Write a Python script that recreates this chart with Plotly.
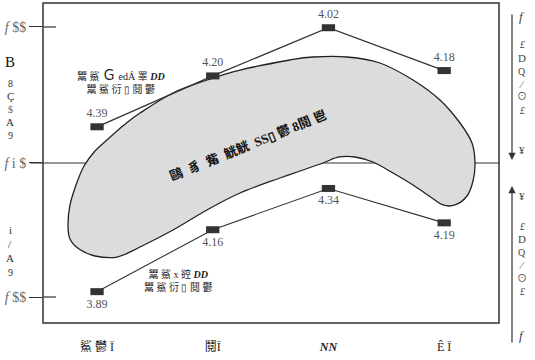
import plotly.graph_objects as go

# ---------------- data ----------------
categories = ["鯊 鬱 Ï", "鬩Ï", "<b><i>NN</i></b>", "Ê Ï"]
upper_values = [4.39, 4.20, 4.02, 4.18]
lower_values = [3.89, 4.16, 4.34, 4.19]
upper_tick_vals = [4.017, 4.5249]
upper_tick_text = ["<i>f</i> $$", "<i>f</i> i $"]
lower_tick_vals = [3.865]
lower_tick_text = ["<i>f</i> $$"]

x_idx = list(range(len(categories)))

W, H = 535, 360
L, R, T, B = 43, 36, 3, 37
PW, PH = W - L - R, H - T - B

def px(xp):
    return (xp - L) / PW

def py(yp):
    return (H - B - yp) / PH

SERIF = "Liberation Serif, Noto Sans CJK SC, serif"
DARK = "#333333"

fig = go.Figure()
fig.add_trace(go.Scatter(
    x=x_idx, y=upper_values, yaxis="y2", mode="lines+markers+text",
    text=[f"{v:.2f}" for v in upper_values], textposition="top center",
    textfont=dict(family=SERIF, size=12, color="#555555"),
    line=dict(color=DARK, width=1.3),
    marker=dict(symbol="line-ew", size=9.5, line=dict(width=7, color=DARK)),
    cliponaxis=False, showlegend=False))
fig.add_trace(go.Scatter(
    x=x_idx, y=lower_values, yaxis="y", mode="lines+markers+text",
    text=[f"{v:.2f}" for v in lower_values], textposition="bottom center",
    textfont=dict(family=SERIF, size=12, color="#555555"),
    line=dict(color=DARK, width=1.1),
    marker=dict(symbol="line-ew", size=9.5, line=dict(width=7, color=DARK)),
    cliponaxis=False, showlegend=False))

# ---------------- blob outline (pixel guide points) ----------------
blob_px = [(68, 225), (70, 205), (76, 185), (84, 166), (95, 151), (108, 139), (124, 125),
           (140, 113), (173, 93), (207, 80), (240, 70), (290, 60), (313, 57), (347, 57),
           (380, 63), (413, 80), (440, 100), (460, 123), (472, 143), (475, 163), (473, 181),
           (467, 196), (455, 205), (443, 205), (432, 198), (413, 185), (393, 173), (373, 162),
           (355, 157), (339, 157), (323, 163), (300, 171), (280, 178), (240, 193), (207, 210),
           (173, 230), (140, 247), (117, 257), (95, 256), (79, 249), (70, 239)]
pts = [(px(a), py(b)) for a, b in blob_px]
n = len(pts)
path = f"M {pts[0][0]:.4f},{pts[0][1]:.4f}"
for i in range(n):
    p0, p1, p2, p3 = pts[i - 1], pts[i], pts[(i + 1) % n], pts[(i + 2) % n]
    c1 = (p1[0] + (p2[0] - p0[0]) / 6, p1[1] + (p2[1] - p0[1]) / 6)
    c2 = (p2[0] - (p3[0] - p1[0]) / 6, p2[1] - (p3[1] - p1[1]) / 6)
    path += f" C {c1[0]:.4f},{c1[1]:.4f} {c2[0]:.4f},{c2[1]:.4f} {p2[0]:.4f},{p2[1]:.4f}"
path += " Z"

shapes = [
    dict(type="line", xref="paper", yref="paper", x0=px(30), x1=1, y0=0.5, y1=0.5,
         line=dict(color=DARK, width=1.2), layer="below"),
    dict(type="path", xref="paper", yref="paper", path=path, fillcolor="#dcdcdc",
         line=dict(color="#222222", width=1.3), layer="below"),
    dict(type="rect", xref="paper", yref="paper", x0=0, x1=1, y0=0, y1=1,
         line=dict(color=DARK, width=1.5), fillcolor="rgba(0,0,0,0)", layer="above"),
    dict(type="line", xref="paper", yref="paper", x0=0, x1=px(56), y0=py(27), y1=py(27),
         line=dict(color=DARK, width=1.2)),
    dict(type="line", xref="paper", yref="paper", x0=0, x1=px(56), y0=py(297), y1=py(297),
         line=dict(color=DARK, width=1.2)),
]

ann = []

def note(text, xx, yy, size, color, **kw):
    ann.append(dict(text=text, x=px(xx), y=py(yy), xref="paper", yref="paper",
                    xanchor="center", yanchor="middle", showarrow=False,
                    font=dict(family=SERIF, size=size, color=color), **kw))

# left vertical labels
left_chars = [("B", 62, 15, "#111"), ("8", 83, 10, "#333"), ("Ç", 96, 11, "#333"),
              ("$", 109, 10, "#666"), ("A", 122, 11, "#333"), ("9", 135, 10, "#333"),
              ("i", 230, 11, "#333"), ("/", 244, 11, "#333"), ("A", 258, 11, "#333"),
              ("9", 272, 10, "#333")]
for ch, yy, fs, col in left_chars:
    note(ch, 10, yy, fs, col)
# right vertical labels
right_chars = [("<i>f</i>", 17, 13), ("<i>£</i>", 45, 10), ("D", 58, 11), ("Q", 71, 10),
               ("⁄", 84, 10), ("⊙", 97, 10), ("<i>£</i>", 110, 10), ("¥", 150, 11),
               ("¥", 196, 11), ("<i>£</i>", 226, 10), ("D", 239, 11), ("Q", 252, 10),
               ("⁄", 265, 10), ("⊙", 278, 10), ("<i>£</i>", 291, 10), ("<i>f</i>", 335, 13)]
for ch, yy, fs in right_chars:
    note(ch, 522, yy, fs, "#444")
# arrows
ann.append(dict(text="", x=px(512), y=py(160), xref="paper", yref="paper", ax=0, ay=-147,
                showarrow=True, arrowhead=2, arrowsize=1.2, arrowwidth=1.2, arrowcolor=DARK))
ann.append(dict(text="", x=px(512), y=py(186), xref="paper", yref="paper", ax=0, ay=158,
                showarrow=True, arrowhead=2, arrowsize=1.2, arrowwidth=1.2, arrowcolor=DARK))
# inner notes
note("鬻 鯊 <span style='font-size:14px'>Ｇ</span> edÁ 睪 <b><i>DD</i></b><br>鬻 鯊 衍 ▯ 鬩 鬱",
     121, 82, 10, "#222")
note("鬻 鯊 x 谾 <b><i>DD</i></b><br>鬻 鯊 衍 ▯ 鬩 鬱", 178, 280, 10, "#222")
note("<b>鷗  豸  觜  觥觥  SS▯ 鬱 8鬩 鬯</b>", 248, 145, 13, "#111", textangle=-22)

fig.update_layout(
    width=W, height=H, margin=dict(l=L, r=R, t=T, b=B),
    paper_bgcolor="white", plot_bgcolor="white",
    xaxis=dict(range=[-0.467, 3.474], tickvals=x_idx, ticktext=categories,
               showgrid=False, zeroline=False, showline=False, ticks="",
               ticklabelstandoff=15,
               tickfont=dict(family=SERIF, size=12, color="#222")),
    yaxis=dict(domain=[0, 0.5], range=[3.7533, 4.451], tickvals=lower_tick_vals,
               ticktext=lower_tick_text, showgrid=False, zeroline=False, showline=False,
               ticks="outside", ticklen=13, tickwidth=1.2, tickcolor=DARK,
               tickfont=dict(family=SERIF, size=14, color="#666")),
    yaxis2=dict(domain=[0.5, 1], range=[4.5253, 3.9276], anchor="x", tickvals=upper_tick_vals,
                ticktext=upper_tick_text, showgrid=False, zeroline=False, showline=False,
                ticks="outside", ticklen=13, tickwidth=1.2, tickcolor=DARK,
                tickfont=dict(family=SERIF, size=14, color="#666")),
    shapes=shapes, annotations=ann,
)

fig.write_html("out.html")
